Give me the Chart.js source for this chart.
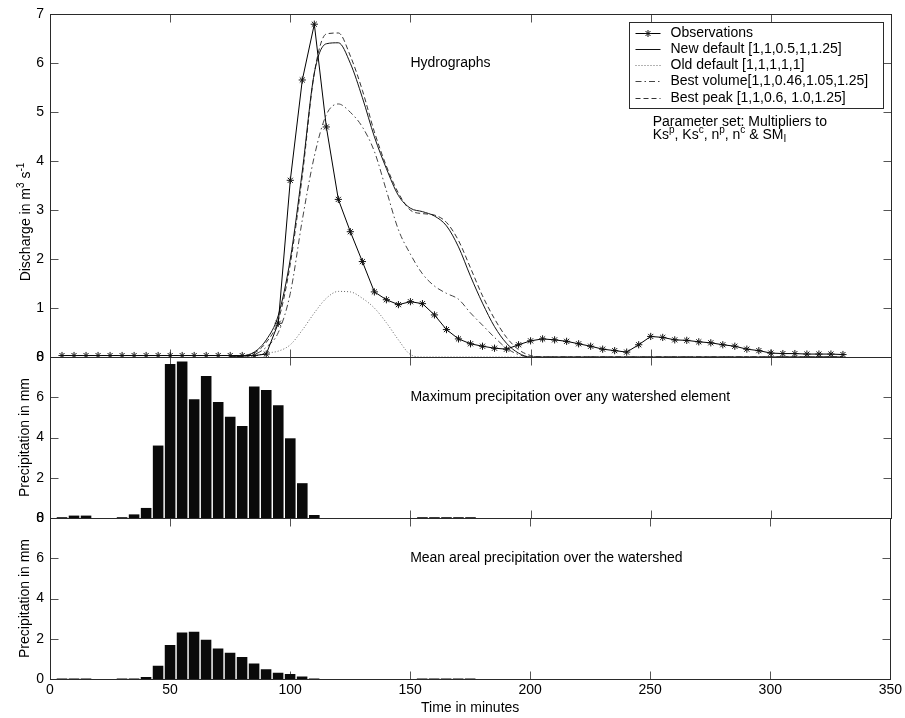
<!DOCTYPE html>
<html>
<head>
<meta charset="utf-8">
<script src="https://cdn.jsdelivr.net/npm/chart.js@4.4.1/dist/chart.umd.min.js"></script>
<style>
  html, body { margin: 0; padding: 0; background: #fff; }
  #wrap { position: relative; width: 905px; height: 718px; }
  #wrap canvas { position: absolute; left: 0; }
</style>
</head>
<body>
<div id="wrap">
  <canvas id="hydro" width="905" height="372" style="top:0px"></canvas>
  <canvas id="maxPrecip" width="905" height="200" style="top:340px"></canvas>
  <canvas id="meanPrecip" width="905" height="218" style="top:500px"></canvas>
</div>
<script>
// time axis ticks (minutes)
const xTicks = [0, 50, 100, 150, 200, 250, 300, 350];

// observed discharge, every 5 minutes
const obsTimes = [5, 10, 15, 20, 25, 30, 35, 40, 45, 50, 55, 60, 65, 70, 75, 80,
  85, 90, 95, 100, 105, 110, 115, 120, 125, 130, 135, 140, 145, 150, 155, 160,
  165, 170, 175, 180, 185, 190, 195, 200, 205, 210, 215, 220, 225, 230, 235, 240,
  245, 250, 255, 260, 265, 270, 275, 280, 285, 290, 295, 300, 305, 310, 315, 320, 325, 330];
const observations = [0.03, 0.03, 0.03, 0.03, 0.03, 0.03, 0.03, 0.03, 0.03, 0.03, 0.03, 0.03, 0.03, 0.03, 0.03, 0.03,
  0.03, 0.06, 0.69, 3.61, 5.66, 6.80, 4.70, 3.22, 2.56, 1.95, 1.33, 1.17, 1.07, 1.13, 1.09, 0.86,
  0.56, 0.37, 0.27, 0.22, 0.18, 0.16, 0.25, 0.33, 0.37, 0.35, 0.32, 0.27, 0.22, 0.16, 0.13, 0.10,
  0.25, 0.42, 0.40, 0.35, 0.34, 0.31, 0.29, 0.25, 0.22, 0.16, 0.13, 0.08, 0.07, 0.07, 0.06, 0.06, 0.06, 0.05];

// simulated hydrographs
const modelTimes = [75, 80, 85, 90, 95, 100, 105, 110, 115, 120, 125, 130, 135, 140, 145, 150,
  155, 160, 165, 170, 175, 180, 185, 190, 195, 200, 205, 330];
const newDefault = [0, 0.02, 0.1, 0.35, 0.85, 2.0, 3.8, 5.8, 6.4, 6.42, 6.0, 5.3, 4.5, 3.85, 3.3, 3.04,
  2.97, 2.88, 2.68, 2.25, 1.65, 1.1, 0.62, 0.28, 0.08, 0, 0, 0];
const oldDefault = [0, 0, 0.02, 0.08, 0.12, 0.25, 0.55, 0.9, 1.2, 1.34, 1.33, 1.2, 1.0, 0.7, 0.35, 0.05,
  0, 0, 0, 0, 0, 0, 0, 0, 0, 0, 0, 0];
const bestVolume = [0, 0, 0.05, 0.2, 0.5, 1.3, 2.8, 4.1, 4.95, 5.17, 5.0, 4.7, 4.2, 3.4, 2.6, 2.1,
  1.7, 1.45, 1.3, 1.18, 0.9, 0.65, 0.4, 0.18, 0.05, 0, 0, 0];
const bestPeak = [0, 0.02, 0.08, 0.3, 0.75, 1.9, 3.7, 5.8, 6.6, 6.62, 6.15, 5.45, 4.6, 3.9, 3.35, 3.0,
  2.93, 2.9, 2.75, 2.38, 1.82, 1.25, 0.78, 0.4, 0.15, 0.03, 0, 0];

// precipitation, 5 minute bars
const precipTimes = [5, 10, 15, 20, 25, 30, 35, 40, 45, 50, 55, 60, 65, 70, 75, 80, 85, 90,
  95, 100, 105, 110, 115, 120, 125, 130, 135, 140, 145, 150, 155, 160, 165, 170, 175];
const maxPrecip = [0.04, 0.12, 0.12, 0, 0, 0.04, 0.18, 0.5, 3.6, 7.65, 7.78, 5.9, 7.06, 5.76, 5.03, 4.57, 6.53, 6.36,
  5.6, 3.96, 1.73, 0.15, 0, 0, 0, 0, 0, 0, 0, 0, 0.04, 0.04, 0.04, 0.04, 0.04];
const meanPrecip = [0.03, 0.03, 0.03, 0, 0, 0.03, 0.03, 0.1, 0.66, 1.69, 2.31, 2.35, 1.95, 1.52, 1.30, 1.09, 0.77, 0.48,
  0.31, 0.25, 0.13, 0.03, 0, 0, 0, 0, 0, 0, 0, 0, 0.03, 0.03, 0.03, 0.03, 0.03];

const FONT = "'Liberation Sans', Arial, sans-serif";
Chart.defaults.font.family = FONT;
Chart.defaults.font.size = 14;
Chart.defaults.color = '#000';

const pts = (xs, ys) => xs.map((x, i) => ({ x: x, y: ys[i] }));

function drawStar(ctx, cx, cy, r) {
  const d = r * Math.SQRT1_2;
  ctx.beginPath();
  ctx.moveTo(cx - r, cy); ctx.lineTo(cx + r, cy);
  ctx.moveTo(cx, cy - r); ctx.lineTo(cx, cy + r);
  ctx.moveTo(cx - d, cy - d); ctx.lineTo(cx + d, cy + d);
  ctx.moveTo(cx - d, cy + d); ctx.lineTo(cx + d, cy - d);
  ctx.stroke();
}

// text with super/subscripts: parts are strings or [text, 'sup'|'sub']
function richWidth(ctx, parts) {
  let w = 0;
  parts.forEach(p => {
    const small = typeof p !== 'string';
    ctx.font = (small ? '10px ' : '14px ') + FONT;
    w += ctx.measureText(small ? p[0] : p).width;
  });
  return w;
}
function drawRich(ctx, parts, x, y) {
  let cx = x;
  parts.forEach(p => {
    const small = typeof p !== 'string';
    const txt = small ? p[0] : p;
    ctx.font = (small ? '10px ' : '14px ') + FONT;
    const dy = !small ? 0 : (p[1] === 'sup' ? -5 : 4);
    ctx.fillText(txt, cx, y + dy);
    cx += ctx.measureText(txt).width;
  });
}

// matlab style box with inward ticks
const TICK = 8;
const matlabAxes = {
  id: 'matlabAxes',
  beforeDatasetsDraw(chart) {
    const { ctx, chartArea: a, scales: { x, y } } = chart;
    const l = Math.round(a.left) + 0.5, t = Math.round(a.top) + 0.5;
    const r = Math.round(a.right) + 0.5, b = Math.round(a.bottom) + 0.5;
    ctx.save();
    ctx.lineWidth = 1;
    ctx.strokeStyle = '#555';
    ctx.beginPath();
    xTicks.forEach(v => {
      const px = Math.round(x.getPixelForValue(v)) + 0.5;
      ctx.moveTo(px, b); ctx.lineTo(px, b - TICK);
      ctx.moveTo(px, t); ctx.lineTo(px, t + TICK);
    });
    y.ticks.forEach(tk => {
      const py = Math.round(y.getPixelForValue(tk.value)) + 0.5;
      ctx.moveTo(l, py); ctx.lineTo(l + TICK, py);
      ctx.moveTo(r, py); ctx.lineTo(r - TICK, py);
    });
    ctx.stroke();
    ctx.strokeStyle = '#2a2a2a';
    ctx.strokeRect(l, t, r - l, b - t);
    ctx.restore();
  },
  afterDraw(chart, args, opts) {
    const { ctx, scales: { x, y } } = chart;
    if (opts.label) {
      ctx.save();
      ctx.font = '14px ' + FONT;
      ctx.fillStyle = '#000';
      ctx.textBaseline = 'middle';
      ctx.fillText(opts.label, x.getPixelForValue(150), y.getPixelForValue(opts.labelY));
      ctx.restore();
    }
  }
};

// legend, parameter note and y title of the hydrograph panel
const hydroExtras = {
  id: 'hydroExtras',
  afterDraw(chart) {
    const { ctx, chartArea: a, scales: { x, y } } = chart;
    ctx.save();
    // legend box
    const bw = 254, bh = 86;
    const bl = Math.round(a.right - 8 - bw) + 0.5, bt = Math.round(a.top + 8) + 0.5;
    ctx.fillStyle = '#fff';
    ctx.fillRect(bl, bt, bw, bh);
    ctx.strokeStyle = '#2a2a2a';
    ctx.lineWidth = 1;
    ctx.strokeRect(bl, bt, bw, bh);
    ctx.textBaseline = 'middle';
    ctx.font = '14px ' + FONT;
    chart.data.datasets.forEach((ds, i) => {
      const yy = Math.round(bt + 10 + i * 16.3) + 0.5;
      ctx.strokeStyle = ds.borderColor;
      ctx.setLineDash(ds.borderDash || []);
      ctx.beginPath();
      ctx.moveTo(bl + 6, yy); ctx.lineTo(bl + 31, yy);
      ctx.stroke();
      ctx.setLineDash([]);
      if (ds.pointStyle === 'star') {
        ctx.strokeStyle = ds.pointBorderColor;
        drawStar(ctx, bl + 18.5, yy, 3.5);
      }
      ctx.fillStyle = '#000';
      ctx.fillText(ds.label, bl + 41, yy);
    });
    // parameter note
    const nx = x.getPixelForValue(250.8), ny = y.getPixelForValue(4.79);
    ctx.fillStyle = '#000';
    drawRich(ctx, ['Parameter set: Multipliers to'], nx, ny);
    drawRich(ctx, ['Ks', ['p', 'sup'], ', Ks', ['c', 'sup'], ', n', ['p', 'sup'], ', n', ['c', 'sup'],
      ' & SM', ['I', 'sub']], nx, ny + 13);
    // y title
    const title = ['Discharge in m', ['3', 'sup'], ' s', ['-1', 'sup']];
    ctx.translate(26, 222);
    ctx.rotate(-Math.PI / 2);
    drawRich(ctx, title, -richWidth(ctx, title) / 2, 0);
    ctx.restore();
  }
};

const yAxis = (max, step, title) => ({
  min: 0, max: max,
  ticks: { stepSize: step, padding: 6 },
  grid: { display: false, drawTicks: false },
  border: { display: false },
  title: title ? { display: true, text: title, padding: { top: 16.6, bottom: 0 } } : { display: false },
  afterFit: s => { s.width = 50; }
});
const xHidden = {
  type: 'linear', min: 0, max: 350, offset: false,
  ticks: { display: false, stepSize: 50 },
  grid: { display: false, drawTicks: false },
  border: { display: false },
  afterFit: s => { s.height = 0; }
};

new Chart(document.getElementById('hydro'), {
  type: 'line',
  data: {
    datasets: [
      { label: 'Observations', data: pts(obsTimes, observations), borderColor: '#000', borderWidth: 1,
        pointStyle: 'star', pointRadius: 3.6, pointBorderColor: '#111', pointBorderWidth: 1, tension: 0 },
      { label: 'New default [1,1,0.5,1,1.25]', data: pts(modelTimes, newDefault), borderColor: '#111',
        borderWidth: 1, pointRadius: 0, cubicInterpolationMode: 'monotone' },
      { label: 'Old default [1,1,1,1,1]', data: pts(modelTimes, oldDefault), borderColor: '#666',
        borderWidth: 1, borderDash: [1, 2], pointRadius: 0, cubicInterpolationMode: 'monotone' },
      { label: 'Best volume[1,1,0.46,1.05,1.25]', data: pts(modelTimes, bestVolume), borderColor: '#444',
        borderWidth: 1, borderDash: [6, 3, 1.5, 3], pointRadius: 0, cubicInterpolationMode: 'monotone' },
      { label: 'Best peak [1,1,0.6, 1.0,1.25]', data: pts(modelTimes, bestPeak), borderColor: '#333',
        borderWidth: 1, borderDash: [5, 3], pointRadius: 0, cubicInterpolationMode: 'monotone' }
    ]
  },
  options: {
    responsive: false, animation: false,
    layout: { padding: { top: 14, bottom: 15, left: 0, right: 14 } },
    plugins: { legend: { display: false }, tooltip: { enabled: false },
      matlabAxes: { label: 'Hydrographs', labelY: 6.0 } },
    scales: { x: xHidden, y: yAxis(7, 1) }
  },
  plugins: [matlabAxes, hydroExtras]
});

const barSet = (data) => ({
  data: data, backgroundColor: '#0a0a0a', borderWidth: 0,
  barPercentage: 0.88, categoryPercentage: 1
});

new Chart(document.getElementById('maxPrecip'), {
  type: 'bar',
  data: { datasets: [barSet(pts(precipTimes, maxPrecip))] },
  options: {
    responsive: false, animation: false,
    layout: { padding: { top: 17, bottom: 22, left: 0, right: 14 } },
    plugins: { legend: { display: false }, tooltip: { enabled: false },
      matlabAxes: { label: 'Maximum precipitation over any watershed element', labelY: 6.0 } },
    scales: { x: xHidden, y: yAxis(8, 2, 'Precipitation in mm') }
  },
  plugins: [matlabAxes]
});

new Chart(document.getElementById('meanPrecip'), {
  type: 'bar',
  data: { datasets: [barSet(pts(precipTimes, meanPrecip))] },
  options: {
    responsive: false, animation: false,
    layout: { padding: { top: 18, bottom: 0, left: 0, right: 14 } },
    plugins: { legend: { display: false }, tooltip: { enabled: false },
      matlabAxes: { label: 'Mean areal precipitation over the watershed', labelY: 6.0 } },
    scales: {
      x: {
        type: 'linear', min: 0, max: 350, offset: false,
        ticks: { stepSize: 50, padding: 3, maxRotation: 0, autoSkip: false },
        grid: { display: false, drawTicks: false },
        border: { display: false },
        title: { display: true, text: 'Time in minutes', padding: { top: 0, bottom: 1.6 } },
        afterFit: s => { s.height = 39; }
      },
      y: yAxis(8, 2, 'Precipitation in mm')
    }
  },
  plugins: [matlabAxes]
});
</script>
</body>
</html>
